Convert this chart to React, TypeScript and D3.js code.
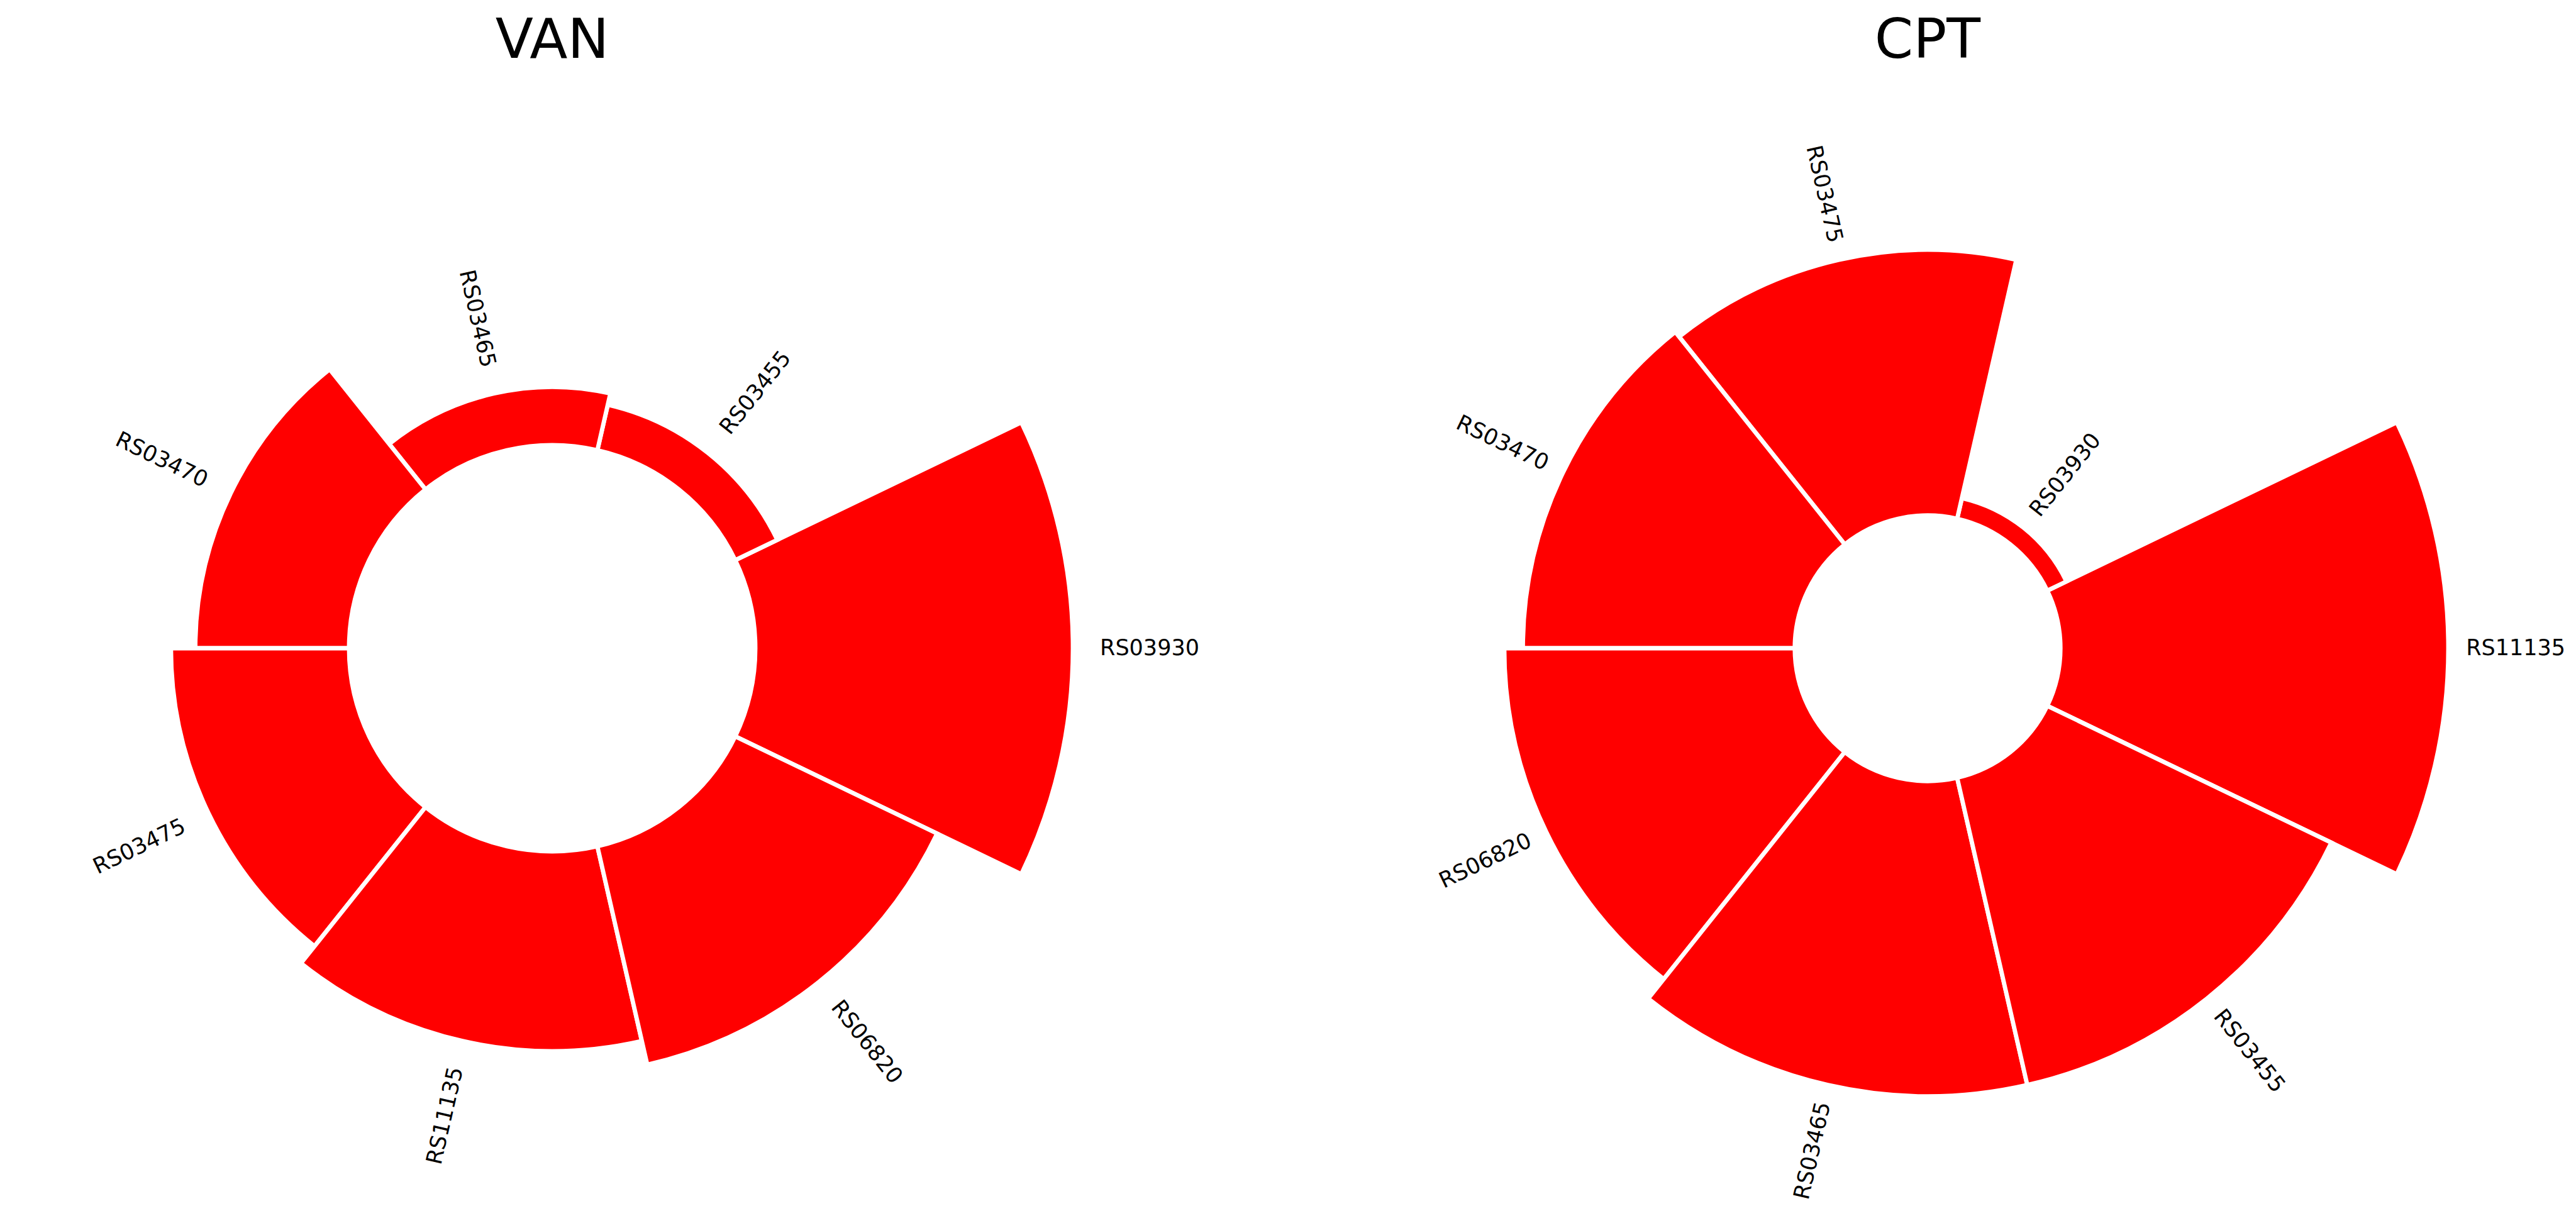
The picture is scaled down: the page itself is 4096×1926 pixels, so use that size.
import React, { useEffect } from 'react';
import * as d3 from 'd3';

// circular bar plots, one per strain
const titles = ['VAN', 'CPT'];

const genesVan = ['RS03930', 'RS03455', 'RS03465', 'RS03470', 'RS03475', 'RS11135', 'RS06820'];
const heightsVan = [46.9, 6.9, 8.6, 22.7, 26.3, 29.5, 33.1];

const genesCpt = ['RS11135', 'RS03930', 'RS03475', 'RS03470', 'RS06820', 'RS03465', 'RS03455'];
const heightsCpt = [87.6, 4.8, 60.0, 61.4, 65.6, 71.2, 71.2];

const LOWER_LIMIT = 30;
const LABEL_PADDING = 4;

const W = 4096;
const H = 1926;
const AXIS_R = 828;
const CENTER_Y = 1031;
const CENTERS_X = [878, 3065];
const FONT = 'DejaVu Sans, sans-serif';

type PanelProps = { cx: number; cy: number; title: string; names: string[]; heights: number[] };

function CircularBars({ cx, cy, title, names, heights }: PanelProps) {
  const n = names.length;
  const width = (2 * Math.PI) / n;
  const angles = d3.range(n).map((i) => i * width);
  const rmax = LOWER_LIMIT + (d3.max(heights) as number);
  const r = d3.scaleLinear().domain([0, rmax]).range([0, AXIS_R]);

  const arc = d3.arc<any>()
    .innerRadius(r(LOWER_LIMIT))
    .outerRadius((d) => r(LOWER_LIMIT + d.h))
    // d3 measures angles clockwise from 12 o'clock; matplotlib ccw from 3 o'clock
    .startAngle((d) => Math.PI / 2 - (d.a + width / 2))
    .endAngle((d) => Math.PI / 2 - (d.a - width / 2));

  return (
    <g>
      <text x={cx} y={92} textAnchor="middle" fontSize={88} fontFamily={FONT} fill="#000">
        {title}
      </text>
      <g transform={`translate(${cx},${cy})`}>
        {heights.map((h, i) => (
          <path
            key={names[i]}
            d={arc({ a: angles[i], h }) as string}
            fill="#ff0000"
            stroke="#ffffff"
            strokeWidth={6.8}
          />
        ))}
        {heights.map((h, i) => {
          const a = angles[i];
          const rr = r(LOWER_LIMIT + h + LABEL_PADDING);
          let rot = (a * 180) / Math.PI;
          let anchor = 'start';
          if (a >= Math.PI / 2 && a < (3 * Math.PI) / 2) {
            anchor = 'end';
            rot += 180;
          }
          const x = rr * Math.cos(a);
          const y = -rr * Math.sin(a);
          return (
            <text
              key={'l' + names[i]}
              transform={`translate(${x},${y}) rotate(${-rot})`}
              textAnchor={anchor as any}
              dy="0.3em"
              fontSize={35}
              fontFamily={FONT}
              fill="#000"
            >
              {names[i]}
            </text>
          );
        })}
      </g>
    </g>
  );
}

export default function App() {
  useEffect(() => {
    document.body.style.margin = '0';
    document.body.style.overflow = 'hidden';
  }, []);

  const panels = [
    { names: genesVan, heights: heightsVan },
    { names: genesCpt, heights: heightsCpt },
  ];

  return (
    <svg
      width={W}
      height={H}
      style={{ display: 'block', position: 'absolute', left: 0, top: 0, background: '#fff' }}
    >
      <rect width={W} height={H} fill="#fff" />
      {panels.map((p, i) => (
        <CircularBars
          key={titles[i]}
          cx={CENTERS_X[i]}
          cy={CENTER_Y}
          title={titles[i]}
          names={p.names}
          heights={p.heights}
        />
      ))}
    </svg>
  );
}
